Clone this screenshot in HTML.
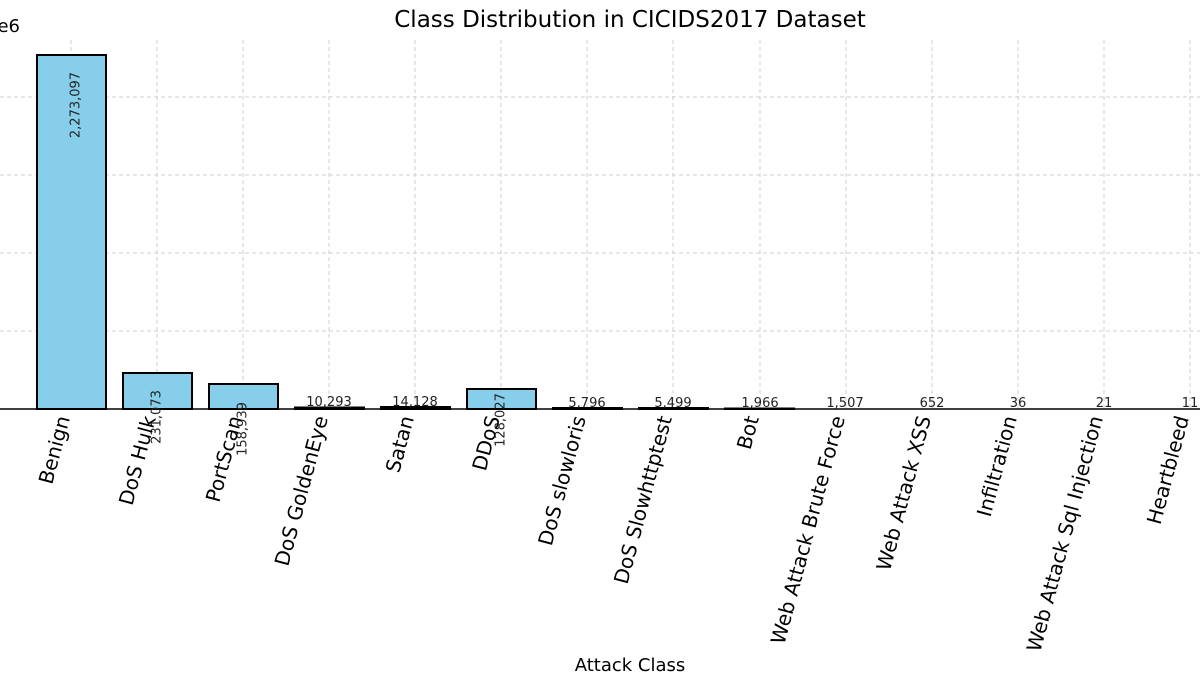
<!DOCTYPE html>
<html><head><meta charset="utf-8"><style>body{margin:0;background:#fff}svg{display:block}</style></head>
<body>
<svg width="1200" height="680" xmlns="http://www.w3.org/2000/svg" font-family="DejaVu Sans, Liberation Sans, sans-serif">
<rect width="1200" height="680" fill="#fff"/>
<g stroke="#cfcfcf" stroke-width="1" stroke-dasharray="4,3">
<line x1="0" y1="331" x2="1200" y2="331"/><line x1="0" y1="253" x2="1200" y2="253"/>
<line x1="0" y1="175" x2="1200" y2="175"/><line x1="0" y1="97" x2="1200" y2="97"/>
<line x1="71" y1="40" x2="71" y2="409"/><line x1="157" y1="40" x2="157" y2="409"/>
<line x1="243" y1="40" x2="243" y2="409"/><line x1="329" y1="40" x2="329" y2="409"/>
<line x1="415" y1="40" x2="415" y2="409"/><line x1="501" y1="40" x2="501" y2="409"/>
<line x1="587" y1="40" x2="587" y2="409"/><line x1="673" y1="40" x2="673" y2="409"/>
<line x1="760" y1="40" x2="760" y2="409"/><line x1="846" y1="40" x2="846" y2="409"/>
<line x1="932" y1="40" x2="932" y2="409"/><line x1="1018" y1="40" x2="1018" y2="409"/>
<line x1="1104" y1="40" x2="1104" y2="409"/><line x1="1190" y1="40" x2="1190" y2="409"/>
</g>
<g fill="#87ceeb" stroke="#000" stroke-width="2">
<rect x="37" y="55" width="69" height="354"/>
<rect x="123" y="373" width="69" height="36"/>
<rect x="209" y="384" width="69" height="25"/>
<rect x="295" y="407.5" width="69" height="1.5"/>
<rect x="381" y="407" width="69" height="2"/>
<rect x="467" y="389" width="69" height="20"/>
<rect x="553" y="408" width="69" height="1"/>
<rect x="639" y="408" width="69" height="1"/>
<rect x="725" y="408.5" width="69" height="0.5"/>
</g>
<line x1="0" y1="409" x2="1200" y2="409" stroke="#000" stroke-width="1.5"/>
<g font-size="13" fill="#222" text-anchor="middle">
<text x="76" y="105" transform="rotate(-90 76 105)" dominant-baseline="middle">2,273,097</text>
<text x="157" y="417" transform="rotate(-90 157 417)" dominant-baseline="middle">231,073</text>
<text x="243" y="429" transform="rotate(-90 243 429)" dominant-baseline="middle">158,939</text>
<text x="501" y="420" transform="rotate(-90 501 420)" dominant-baseline="middle">128,027</text>
<text x="329" y="406">10,293</text><text x="415" y="406">14,128</text>
<text x="587" y="407">5,796</text><text x="673" y="407">5,499</text>
<text x="760" y="407">1,966</text><text x="845" y="407">1,507</text>
<text x="932" y="407">652</text><text x="1018" y="407">36</text>
<text x="1104" y="407">21</text><text x="1190" y="407">11</text>
</g>
<g font-size="20" fill="#000" text-anchor="end">
<text transform="translate(70,418) rotate(-75)">Benign</text>
<text transform="translate(156,418) rotate(-75)">DoS Hulk</text>
<text transform="translate(242,418) rotate(-75)">PortScan</text>
<text transform="translate(328,418) rotate(-75)">DoS GoldenEye</text>
<text transform="translate(414,418) rotate(-75)">Satan</text>
<text transform="translate(500,418) rotate(-75)">DDoS</text>
<text transform="translate(586,418) rotate(-75)">DoS slowloris</text>
<text transform="translate(672,418) rotate(-75)">DoS Slowhttptest</text>
<text transform="translate(759,418) rotate(-75)">Bot</text>
<text transform="translate(845,418) rotate(-75)">Web Attack Brute Force</text>
<text transform="translate(931,418) rotate(-75)">Web Attack XSS</text>
<text transform="translate(1017,418) rotate(-75)">Infiltration</text>
<text transform="translate(1103,418) rotate(-75)">Web Attack Sql Injection</text>
<text transform="translate(1189,418) rotate(-75)">Heartbleed</text>
</g>
<text x="630" y="27" font-size="23" text-anchor="middle">Class Distribution in CICIDS2017 Dataset</text>
<text x="630" y="671" font-size="18" text-anchor="middle">Attack Class</text>
<text x="-14" y="32" font-size="18">1e6</text>
</svg>
</body></html>
